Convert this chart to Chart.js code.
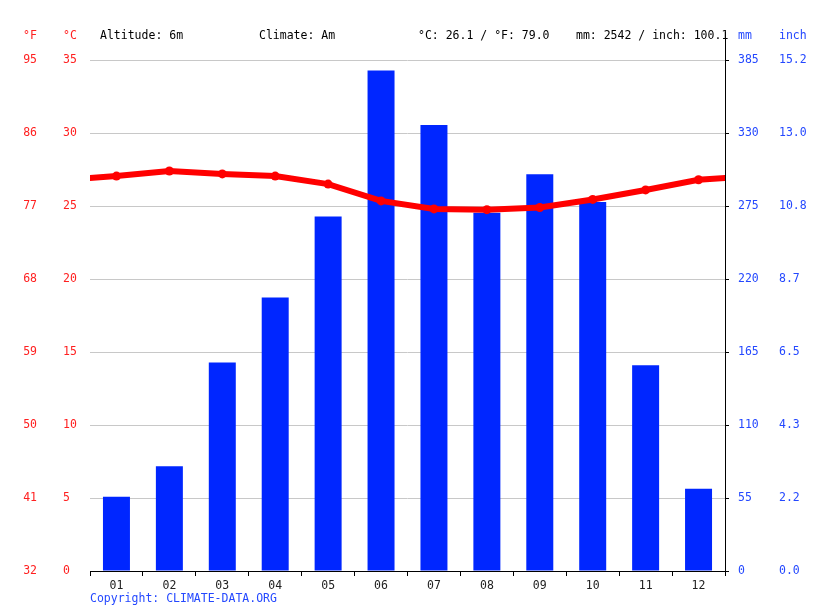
<!DOCTYPE html>
<html><head><meta charset="utf-8">
<script src="https://cdn.jsdelivr.net/npm/chart.js@4/dist/chart.umd.min.js"></script>
<style>html,body{margin:0;padding:0;background:#fff;}#wrap{width:815px;height:611px;position:relative}</style>
</head><body><div id="wrap"><canvas id="c" width="815" height="611"></canvas></div>
<script>
const months = ['01','02','03','04','05','06','07','08','09','10','11','12'];
const tempC = [27.05, 27.4, 27.2, 27.05, 26.5, 25.35, 24.8, 24.75, 24.9, 25.45, 26.1, 26.8];
const precipMm = [56, 79, 157, 206, 267, 377, 336, 270, 299, 278, 155, 62];
const inchTickLabels = ['0.0','2.2','4.3','6.5','8.7','10.8','13.0','15.2'];
const headerLeft = [['°F', 23, '#ff2020'], ['°C', 63, '#ff2020']];
const headerInfo = [['Altitude: 6m', 100], ['Climate: Am', 259], ['°C: 26.1 / °F: 79.0', 418], ['mm: 2542 / inch: 100.1', 576]];
const headerRight = [['mm', 738], ['inch', 779]];
const copyright = 'Copyright: CLIMATE-DATA.ORG';

const RED = '#ff0000', RED_T = '#ff2020', BLUE = '#0026ff', BLUE_T = '#2448ff';
const FONT = 'DejaVu Sans Mono';
Chart.defaults.font.family = FONT;
Chart.defaults.font.size = 11.5;

// line points: cyclic wrap (previous Dec, Jan..Dec, next Jan), clipped to the plot area
const linePts = [{x: 0, y: tempC[11]}]
  .concat(tempC.map((v, i) => ({x: i + 1, y: v})))
  .concat([{x: 13, y: tempC[0]}]);
const ptRadius = linePts.map((p, i) => (i === 0 || i === linePts.length - 1) ? 0 : 4.5);

const headerPlugin = {
  id: 'hdr',
  afterDraw(chart) {
    const ctx = chart.ctx;
    ctx.save();
    ctx.font = '11.5px "' + FONT + '"';
    ctx.textBaseline = 'middle';
    ctx.textAlign = 'left';
    headerLeft.forEach(h => { ctx.fillStyle = h[2]; ctx.fillText(h[0], h[1], 36); });
    ctx.fillStyle = '#000';
    headerInfo.forEach(h => ctx.fillText(h[0], h[1], 36));
    ctx.fillStyle = BLUE_T;
    headerRight.forEach(h => ctx.fillText(h[0], h[1], 36));
    ctx.fillText(copyright, 90, 599);
    // extension of right axis line above the plot
    const x = Math.round(chart.scales.yMm.left) + 0.5;
    ctx.strokeStyle = '#000'; ctx.lineWidth = 1;
    ctx.beginPath(); ctx.moveTo(x, 32); ctx.lineTo(x, chart.chartArea.top); ctx.stroke();
    ctx.restore();
  }
};

new Chart(document.getElementById('c'), {
  data: {
    labels: months,
    datasets: [
      {
        type: 'line', label: 'Temperature', data: linePts, xAxisID: 'x2', yAxisID: 'yC',
        borderColor: RED, backgroundColor: RED, borderWidth: 6, pointRadius: ptRadius,
        pointBackgroundColor: RED, pointBorderWidth: 0, tension: 0, order: 0, clip: 0
      },
      {
        type: 'bar', label: 'Precipitation', data: precipMm, xAxisID: 'x', yAxisID: 'yMm',
        backgroundColor: BLUE, borderWidth: 0, barPercentage: 0.51, categoryPercentage: 1,
        grouped: false, order: 1
      }
    ]
  },
  options: {
    responsive: false, animation: false, devicePixelRatio: 1,
    layout: {padding: {top: 60, left: 0, right: 0, bottom: 0}},
    plugins: {legend: {display: false}, tooltip: {enabled: false}},
    scales: {
      x: {
        type: 'category', position: 'bottom', offset: true,
        grid: {display: true, drawOnChartArea: false, drawTicks: true, tickLength: 5, color: '#000', offset: true},
        border: {display: true, color: '#000', width: 1},
        ticks: {color: '#222', padding: 3},
        afterFit(s) { s.height = 40; }
      },
      x2: {type: 'linear', display: false, min: 0.5, max: 12.5},
      yF: {
        type: 'linear', position: 'left', weight: 2, min: 32, max: 95,
        ticks: {stepSize: 9, color: RED_T, crossAlign: 'near', padding: 26},
        grid: {display: false, drawTicks: false}, border: {display: false},
        afterFit(s) { s.width = 63; }
      },
      yC: {
        type: 'linear', position: 'left', weight: 1, min: 0, max: 35,
        ticks: {stepSize: 5, color: RED_T, crossAlign: 'far', padding: 0},
        grid: {color: '#c8c8c8', lineWidth: 1, drawTicks: false}, border: {display: false},
        afterFit(s) { s.width = 27; }
      },
      yMm: {
        type: 'linear', position: 'right', weight: 1, min: 0, max: 385,
        ticks: {stepSize: 55, color: BLUE_T, crossAlign: 'near', padding: 9},
        grid: {drawOnChartArea: false, drawTicks: true, tickLength: 4, color: '#000'},
        border: {display: true, color: '#000', width: 1},
        afterFit(s) { s.width = 54; }
      },
      yIn: {
        type: 'linear', position: 'right', weight: 2, min: 0, max: 385,
        ticks: {stepSize: 55, color: BLUE_T, crossAlign: 'near', padding: 0,
          callback: (v, i) => inchTickLabels[i]},
        grid: {display: false, drawTicks: false}, border: {display: false},
        afterFit(s) { s.width = 36; }
      }
    }
  },
  plugins: [headerPlugin]
});
</script></body></html>
